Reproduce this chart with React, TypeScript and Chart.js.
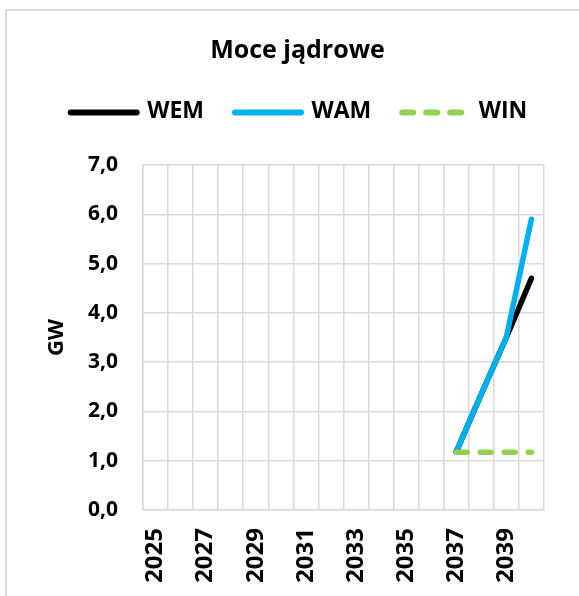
import React, { useEffect, useRef } from "react";
import { Chart, registerables } from "chart.js";

Chart.register(...registerables);

const years = ["2025","2026","2027","2028","2029","2030","2031","2032","2033","2034","2035","2036","2037","2038","2039","2040"];
const wem = [null,null,null,null,null,null,null,null,null,null,null,null,1.18,2.35,3.5,4.7];
const wam = [null,null,null,null,null,null,null,null,null,null,null,null,1.18,2.35,3.5,5.9];
const win = [null,null,null,null,null,null,null,null,null,null,null,null,1.17,1.17,1.17,1.17];
const yTicks = [0,1,2,3,4,5,6,7];

const FONT = "'Open Sans', 'Noto Sans', sans-serif";
const GRID = "#d9d9d9";

const legendLines = {
  id: "legendLines",
  afterDraw(chart: any) {
    const lg = chart.legend;
    if (!lg || !lg.legendHitBoxes || !lg.legendItems) return;
    const ctx = chart.ctx;
    lg.legendItems.forEach((item: any, i: number) => {
      const hb = lg.legendHitBoxes[i];
      if (!hb) return;
      const ds = chart.data.datasets[item.datasetIndex];
      const y = hb.top + hb.height / 2 + 1;
      ctx.save();
      ctx.strokeStyle = ds.borderColor;
      ctx.lineWidth = 6;
      ctx.lineCap = "round";
      ctx.setLineDash(ds.borderDash || []);
      ctx.beginPath();
      ctx.moveTo(hb.left + 3, y);
      ctx.lineTo(hb.left + 3 + 66, y);
      ctx.stroke();
      ctx.restore();
    });
  },
};

export default function App() {
  const ref = useRef<HTMLCanvasElement | null>(null);
  useEffect(() => {
    if (!ref.current) return;
    Chart.defaults.font.family = FONT;
    Chart.defaults.color = "#000";
    const baseGen = (Chart.defaults as any).plugins.legend.labels.generateLabels;
    const chart = new Chart(ref.current, {
      type: "line",
      data: {
        labels: years,
        datasets: [
          { label: "WEM", data: wem, borderColor: "#000000", backgroundColor: "#000000", borderWidth: 5.5, borderCapStyle: "round", borderJoinStyle: "round", pointRadius: 0, order: 2 },
          { label: "WAM", data: wam, borderColor: "#00b0f0", backgroundColor: "#00b0f0", borderWidth: 5.5, borderCapStyle: "round", borderJoinStyle: "round", pointRadius: 0, order: 1 },
          { label: "WIN", data: win, borderColor: "#92d050", backgroundColor: "#92d050", borderWidth: 5.5, borderDash: [11, 13], borderCapStyle: "round", pointRadius: 0, order: 0 },
        ],
      },
      options: {
        responsive: false,
        animation: false,
        layout: { padding: { left: 16, top: 0, right: 0, bottom: 0 } },
        plugins: {
          title: {
            display: true,
            text: "Moce jądrowe",
            font: { size: 25, weight: "bold", family: FONT },
            color: "#000",
            padding: { top: 36, bottom: 6 },
          },
          subtitle: {
            display: true,
            text: "",
            font: { size: 10, lineHeight: 1 },
            padding: { top: 0, bottom: 22 },
            weight: 500,
          },
          legend: {
            display: true,
            position: "top",
            labels: {
              usePointStyle: false,
              boxWidth: 68,
              boxHeight: 6,
              padding: 28,
              color: "#000",
              font: { size: 23, weight: "bold", family: FONT },
              sort: (a: any, b: any) => a.datasetIndex - b.datasetIndex,
              generateLabels: (c: any) =>
                baseGen(c).map((it: any) => ({ ...it, fillStyle: "rgba(0,0,0,0)", strokeStyle: "rgba(0,0,0,0)", lineWidth: 0 })),
            },
          },
          tooltip: { enabled: false },
        },
        scales: {
          x: {
            type: "category",
            offset: true,
            grid: { display: true, offset: true, color: GRID, lineWidth: 1.5, drawTicks: false },
            border: { display: true, color: GRID, width: 1.5 },
            ticks: {
              autoSkip: false,
              maxRotation: 90,
              minRotation: 90,
              padding: 18,
              color: "#000",
              font: { size: 24, weight: "bold", family: FONT },
              callback: (_v: any, i: number) => (i % 2 === 0 ? years[i] : ""),
            },
            afterFit: (s: any) => { s.height = 86; },
          },
          y: {
            position: "left",
            min: 0,
            max: 7,
            afterBuildTicks: (s: any) => { s.ticks = yTicks.map((v) => ({ value: v })); },
            grid: { color: GRID, lineWidth: 1.5, drawTicks: false },
            border: { display: true, color: GRID, width: 1.5 },
            ticks: {
              padding: 25,
              color: "#000",
              font: { size: 21, weight: "bold", family: FONT },
              callback: (v: any) => Number(v).toFixed(1).replace(".", ","),
            },
            title: {
              display: true,
              text: "GW",
              color: "#000",
              font: { size: 22, weight: "bold", family: FONT },
              padding: { top: 28, bottom: 0 },
            },
            afterFit: (s: any) => { s.width = 127; },
          },
          y2: {
            position: "right",
            display: true,
            grid: { display: false },
            border: { display: false },
            ticks: { display: false },
            afterFit: (s: any) => { s.width = 26; },
          },
        },
      } as any,
      plugins: [legendLines],
    });
    return () => chart.destroy();
  }, []);

  return (
    <div style={{ position: "fixed", left: 0, top: 0, width: 579, height: 596, overflow: "hidden", background: "#fff" }}>
      <div style={{ position: "absolute", left: 5, top: 9, width: 700, height: 700, borderLeft: "2px solid #dcdcdc", borderTop: "2px solid #dcdcdc" }} />
      <canvas ref={ref} width={579} height={596} style={{ position: "absolute", left: 0, top: 0, width: 579, height: 596 }} />
    </div>
  );
}
